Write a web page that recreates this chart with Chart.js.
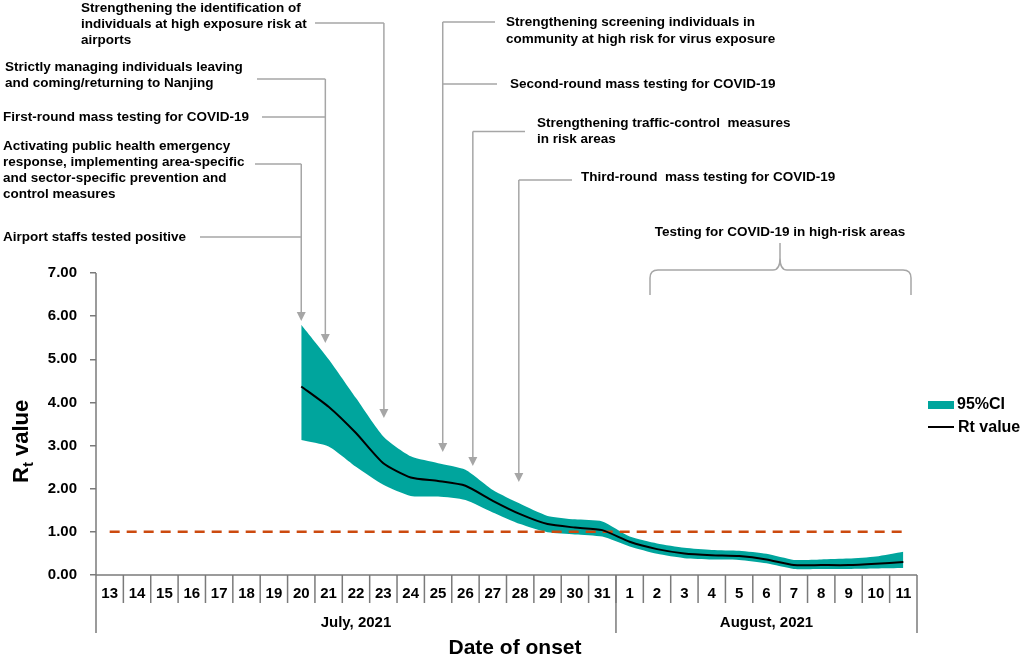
<!DOCTYPE html>
<html><head><meta charset="utf-8">
<script src="https://cdn.jsdelivr.net/npm/chart.js@4.4.1/dist/chart.umd.min.js"></script>
<style>html,body{margin:0;padding:0;background:#fff}canvas{display:block}</style>
</head><body>
<canvas id="c" width="1021" height="658"></canvas>
<script>
// ---------- DATA ----------
const categories = ['13','14','15','16','17','18','19','20','21','22','23','24','25','26','27','28','29','30','31',
                    '1','2','3','4','5','6','7','8','9','10','11'];
const monthLabels = ['July, 2021', 'August, 2021'];
const monthDayCounts = [19, 11];
const rtValue = [null,null,null,null,null,null,null,
  4.37,3.90,3.29,2.59,2.26,2.18,2.07,1.72,1.41,1.18,1.10,1.04,
  0.77,0.60,0.50,0.46,0.44,0.36,0.23,0.23,0.23,0.26,0.30];
const ciUpper = [null,null,null,null,null,null,null,
  5.80,5.00,4.10,3.21,2.75,2.59,2.44,1.97,1.65,1.37,1.29,1.24,
  0.89,0.73,0.63,0.58,0.56,0.49,0.35,0.36,0.38,0.43,0.54];
const ciLower = [null,null,null,null,null,null,null,
  3.13,2.98,2.51,2.09,1.83,1.82,1.74,1.45,1.18,0.99,0.94,0.89,
  0.66,0.49,0.39,0.36,0.35,0.27,0.14,0.14,0.14,0.15,0.16];
const threshold = [1,1,1,1,1,1,1,1,1,1,1,1,1,1,1,1,1,1,1,1,1,1,1,1,1,1,1,1,1,1];
const yMin = 0, yMax = 7, yStep = 1;
const seriesNames = ['95%CI', 'Rt value'];
const axisTitleX = 'Date of onset';
const annotationTexts = {
  airport: ['Airport staffs tested positive'],
  activating: ['Activating public health emergency','response, implementing area-specific','and sector-specific prevention and','control measures'],
  first: ['First-round mass testing for COVID-19'],
  strictly: ['Strictly managing individuals leaving','and coming/returning to Nanjing'],
  identification: ['Strengthening the identification of','individuals at high exposure risk at','airports'],
  screening: ['Strengthening screening individuals in','community at high risk for virus exposure'],
  second: ['Second-round mass testing for COVID-19'],
  traffic: ['Strengthening traffic-control  measures','in risk areas'],
  third: ['Third-round  mass testing for COVID-19'],
  highrisk: ['Testing for COVID-19 in high-risk areas']
};

// ---------- STYLE ----------
const TEAL = '#00a59d';
const GRAY = '#a6a6a6';
const AXIS = '#7a7a7a';
const FONT = '"Liberation Sans", Arial, sans-serif';

function drawTextLines(ctx, lines, x, y0, dy) {
  ctx.textAlign = 'left';
  ctx.textBaseline = 'middle';
  lines.forEach((t, i) => ctx.fillText(t, x, y0 + i * dy));
}
function hline(ctx, x1, x2, y) { ctx.beginPath(); ctx.moveTo(x1, y); ctx.lineTo(x2, y); ctx.stroke(); }
function vline(ctx, x, y1, y2) { ctx.beginPath(); ctx.moveTo(x, y1); ctx.lineTo(x, y2); ctx.stroke(); }
function arrow(ctx, x, y1, y2) {
  vline(ctx, x, y1, y2 - 7);
  ctx.beginPath();
  ctx.moveTo(x - 4.5, y2 - 9); ctx.lineTo(x + 4.5, y2 - 9); ctx.lineTo(x, y2); ctx.closePath(); ctx.fill();
}

const decorPlugin = {
  id: 'decor',
  afterDraw(chart) {
    const ctx = chart.ctx;
    const xs = chart.scales.x, ys = chart.scales.y;
    const left = chart.chartArea.left, right = chart.chartArea.right;
    const y0 = ys.getPixelForValue(0);
    const top = ys.getPixelForValue(yMax);
    const rowBottom = y0 + 28, tableBottom = y0 + 58;
    ctx.save();
    // axes
    ctx.strokeStyle = AXIS; ctx.lineWidth = 1.5;
    vline(ctx, left, top, tableBottom);
    hline(ctx, left, right, y0);
    // day separators
    for (let i = 1; i < categories.length; i++) {
      const bx = (xs.getPixelForValue(i - 1) + xs.getPixelForValue(i)) / 2;
      vline(ctx, bx, y0, rowBottom);
    }
    // day labels, month separators and labels
    ctx.fillStyle = '#000';
    ctx.font = 'bold 15px ' + FONT;
    ctx.textAlign = 'center'; ctx.textBaseline = 'middle';
    categories.forEach((c, i) => ctx.fillText(c, xs.getPixelForValue(i), y0 + 19));
    let start = 0;
    monthDayCounts.forEach((n, m) => {
      const a = start === 0 ? left : (xs.getPixelForValue(start - 1) + xs.getPixelForValue(start)) / 2;
      const end = start + n;
      const b = end >= categories.length ? right : (xs.getPixelForValue(end - 1) + xs.getPixelForValue(end)) / 2;
      vline(ctx, b, y0, tableBottom);
      ctx.fillText(monthLabels[m], (a + b) / 2, y0 + 48);
      start = end;
    });
    // x title
    ctx.font = 'bold 21px ' + FONT;
    ctx.fillText(axisTitleX, 515, 648);
    // y title with subscript
    ctx.save();
    ctx.translate(28, 483);
    ctx.rotate(-Math.PI / 2);
    ctx.textAlign = 'left'; ctx.textBaseline = 'alphabetic';
    ctx.font = 'bold 22px ' + FONT;
    ctx.fillText('R', 0, 0);
    let w = ctx.measureText('R').width;
    ctx.font = 'bold 15px ' + FONT;
    ctx.fillText('t', w, 5);
    w += ctx.measureText('t').width;
    ctx.font = 'bold 22px ' + FONT;
    ctx.fillText(' value', w, 0);
    ctx.restore();

    // legend
    ctx.fillStyle = TEAL;
    ctx.fillRect(928, 401, 26, 8);
    ctx.strokeStyle = '#000'; ctx.lineWidth = 2;
    hline(ctx, 928, 954, 427);
    ctx.fillStyle = '#000';
    ctx.font = 'bold 16px ' + FONT;
    ctx.textAlign = 'left'; ctx.textBaseline = 'middle';
    ctx.fillText(seriesNames[0], 957, 405);
    ctx.fillText(seriesNames[1], 958, 428);

    // annotations
    ctx.font = 'bold 13.5px ' + FONT;
    ctx.fillStyle = '#000';
    drawTextLines(ctx, annotationTexts.identification, 81, 8, 16.3);
    drawTextLines(ctx, annotationTexts.strictly, 5, 67, 16.3);
    drawTextLines(ctx, annotationTexts.first, 3, 117, 16.3);
    drawTextLines(ctx, annotationTexts.activating, 3, 146, 16.1);
    drawTextLines(ctx, annotationTexts.airport, 3, 237, 16.3);
    drawTextLines(ctx, annotationTexts.screening, 506, 22.5, 16.5);
    drawTextLines(ctx, annotationTexts.second, 510, 84, 16.3);
    drawTextLines(ctx, annotationTexts.traffic, 537, 123, 16.3);
    drawTextLines(ctx, annotationTexts.third, 581, 177.5, 16.3);
    ctx.textAlign = 'center';
    ctx.fillText(annotationTexts.highrisk[0], 780, 232);

    ctx.strokeStyle = GRAY; ctx.fillStyle = GRAY; ctx.lineWidth = 1.5;
    const ax20 = xs.getPixelForValue(7);
    const ax21 = xs.getPixelForValue(7.88);
    const ax23 = xs.getPixelForValue(10.02);
    const ax25 = xs.getPixelForValue(12.17);
    const ax26 = xs.getPixelForValue(13.27);
    const ax28 = xs.getPixelForValue(14.95);
    hline(ctx, 200, ax20, 237);
    hline(ctx, 255, ax20, 164);
    arrow(ctx, ax20, 164, 321);
    hline(ctx, 262, ax21, 117);
    hline(ctx, 257, ax21, 79);
    arrow(ctx, ax21, 79, 343);
    hline(ctx, 315, ax23, 23);
    arrow(ctx, ax23, 23, 418);
    hline(ctx, ax25, 495, 22);
    hline(ctx, ax25, 497, 84);
    arrow(ctx, ax25, 22, 452);
    hline(ctx, ax26, 525, 131.5);
    arrow(ctx, ax26, 131.5, 466);
    hline(ctx, ax28, 572, 180);
    arrow(ctx, ax28, 180, 482);

    // brace
    const bl = 650, br = 911, bm = 780, by = 270;
    ctx.beginPath();
    ctx.moveTo(bl, 295);
    ctx.lineTo(bl, 278);
    ctx.quadraticCurveTo(bl, by, bl + 8, by);
    ctx.lineTo(bm - 7, by);
    ctx.quadraticCurveTo(bm, by, bm, 258);
    ctx.lineTo(bm, 243);
    ctx.moveTo(bm, 258);
    ctx.quadraticCurveTo(bm, by, bm + 7, by);
    ctx.lineTo(br - 8, by);
    ctx.quadraticCurveTo(br, by, br, 278);
    ctx.lineTo(br, 295);
    ctx.stroke();
    ctx.restore();
  }
};

new Chart(document.getElementById('c'), {
  type: 'line',
  data: {
    labels: categories,
    datasets: [
      { label: 'lower', data: ciLower, borderWidth: 0, pointRadius: 0, fill: false, tension: 0.2, borderColor: 'rgba(0,0,0,0)', order: 3 },
      { label: seriesNames[0], data: ciUpper, borderWidth: 0, pointRadius: 0, fill: '-1', backgroundColor: TEAL, borderColor: 'rgba(0,0,0,0)', tension: 0.2, order: 2 },
      { label: 'threshold', data: threshold, borderColor: '#cc4a0f', borderWidth: 2.5, borderDash: [10, 7], pointRadius: 0, fill: false, order: 1 },
      { label: seriesNames[1], data: rtValue, borderColor: '#000', borderWidth: 2, pointRadius: 0, fill: false, tension: 0.2, order: 0 }
    ]
  },
  options: {
    responsive: false,
    animation: false,
    devicePixelRatio: 1,
    layout: { padding: { left: 0, right: 104, top: 273, bottom: 83 } },
    plugins: { legend: { display: false }, tooltip: { enabled: false } },
    scales: {
      x: { type: 'category', offset: true, display: false },
      y: {
        min: yMin, max: yMax,
        afterFit: (s) => { s.width = 96; },
        border: { display: false },
        grid: { drawOnChartArea: false, drawTicks: true, tickLength: 6, color: AXIS, lineWidth: 1.5 },
        ticks: { stepSize: yStep, padding: 13, color: '#000', font: { family: FONT, weight: 'bold', size: 15 },
                 callback: (v) => Number(v).toFixed(2) }
      }
    }
  },
  plugins: [decorPlugin]
});
</script>
</body></html>
